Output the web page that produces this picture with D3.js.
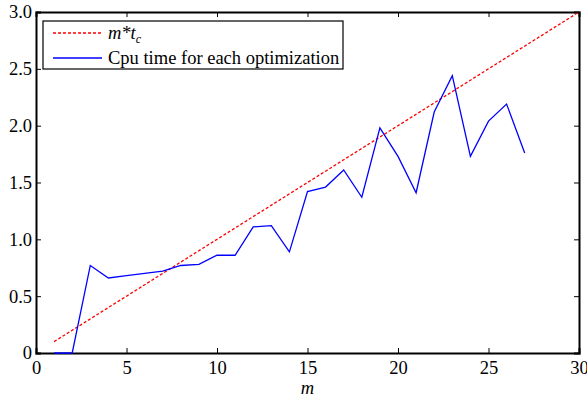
<!DOCTYPE html>
<html>
<head>
<meta charset="utf-8">
<script src="https://cdn.jsdelivr.net/npm/d3@7"></script>
<style>
  body { margin: 0; background: #fff; }
</style>
</head>
<body>
<svg id="chart" width="587" height="398" font-family="Liberation Serif"></svg>
<script>
// m values and measured cpu times
const mValues = [1, 2, 3, 4, 5, 6, 7, 8, 9, 10, 11, 12, 13, 14, 15, 16, 17, 18, 19, 20, 21, 22, 23, 24, 25, 26, 27];
const cpuTimes = [0, 0, 0.77, 0.66, 0.68, 0.70, 0.72, 0.77, 0.78, 0.86, 0.86, 1.11, 1.12, 0.89, 1.42, 1.46, 1.61, 1.37, 1.98, 1.73, 1.41, 2.12, 2.44, 1.73, 2.04, 2.19, 1.76];
// reference line m * t_c
const refM = [1, 30];
const refValues = [0.1, 3.0];
const xTicks = [0, 5, 10, 15, 20, 25, 30];
const yTicks = [0, 0.5, 1.0, 1.5, 2.0, 2.5, 3.0];
const yTickLabels = ['0', '0.5', '1.0', '1.5', '2.0', '2.5', '3.0'];

const FONT = 'Liberation Serif';
const outerWidth = 587, outerHeight = 398;
const margin = {top: 12, right: 8, bottom: 45, left: 36};
const width = outerWidth - margin.left - margin.right;
const height = outerHeight - margin.top - margin.bottom;

let svg = d3.select('#chart')
    .append('g')
    .attr('transform', 'translate(' + margin.left + ',' + margin.top + ')');

let x = d3.scaleLinear().domain([0, 30]).range([0, width]);
let y = d3.scaleLinear().domain([0, 3]).range([height, 0]);

// axes with inward ticks, mirrored on top/right
const tickLen = 5;
svg.append('g')
    .attr('transform', 'translate(0,' + height + ')')
    .call(d3.axisBottom(x).tickValues(xTicks).tickSize(-tickLen).tickPadding(8).tickFormat(d3.format('d')));
svg.append('g')
    .call(d3.axisTop(x).tickValues(xTicks).tickSize(-tickLen).tickFormat(''));
svg.append('g')
    .call(d3.axisLeft(y).tickValues(yTicks).tickSize(-tickLen).tickPadding(4).tickFormat((d, i) => yTickLabels[i]));
svg.append('g')
    .attr('transform', 'translate(' + width + ',0)')
    .call(d3.axisRight(y).tickValues(yTicks).tickSize(-tickLen).tickFormat(''));

svg.selectAll('g').attr('font-family', FONT);
svg.selectAll('.tick text').attr('font-size', 18.5).attr('fill', '#000');
svg.selectAll('.domain').attr('stroke', '#000').attr('stroke-width', 2);
svg.selectAll('.tick line').attr('stroke', '#000').attr('stroke-width', 1);

// x label
svg.append('text')
    .attr('x', width / 2)
    .attr('y', height + 41)
    .attr('text-anchor', 'middle')
    .attr('font-size', 18.5)
    .attr('font-style', 'italic')
    .text('m');

// reference line
svg.append('path')
    .datum(refM.map((m, i) => [m, refValues[i]]))
    .attr('fill', 'none')
    .attr('stroke', '#ff0000')
    .attr('stroke-width', 1.3)
    .attr('stroke-dasharray', '3,2')
    .attr('d', d3.line().x(d => x(d[0])).y(d => y(d[1])));

// cpu time line
svg.append('path')
    .datum(mValues.map((m, i) => [m, cpuTimes[i]]))
    .attr('fill', 'none')
    .attr('stroke', '#0000ff')
    .attr('stroke-width', 1.3)
    .attr('d', d3.line().x(d => x(d[0])).y(d => y(d[1])));

// legend
let legend = svg.append('g').attr('transform', 'translate(7,9)');
legend.append('rect')
    .attr('width', 300).attr('height', 48)
    .attr('fill', '#fff').attr('stroke', '#000').attr('stroke-width', 1.2);
legend.append('line')
    .attr('x1', 10).attr('x2', 59).attr('y1', 12).attr('y2', 12)
    .attr('stroke', '#ff0000').attr('stroke-width', 1.3).attr('stroke-dasharray', '3,2');
legend.append('line')
    .attr('x1', 10).attr('x2', 59).attr('y1', 37).attr('y2', 37)
    .attr('stroke', '#0000ff').attr('stroke-width', 1.3);
let t1 = legend.append('text').attr('x', 65).attr('y', 18).attr('font-size', 18.5).attr('font-style', 'italic');
t1.append('tspan').text('m*t');
t1.append('tspan').attr('font-size', 12).attr('dy', 4).text('c');
legend.append('text').attr('x', 65).attr('y', 43).attr('font-size', 18.5).text('Cpu time for each optimization');
</script>
</body>
</html>
